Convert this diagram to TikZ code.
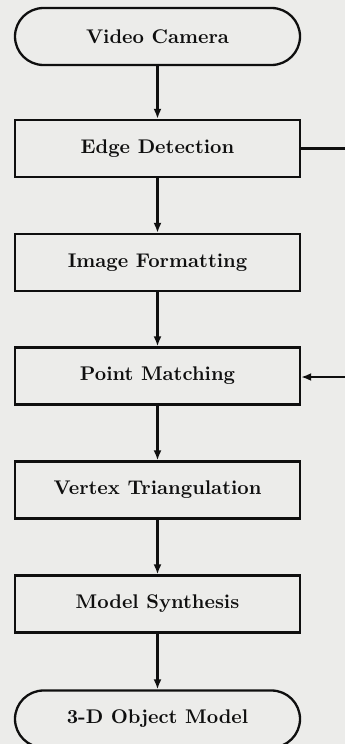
\documentclass[tikz,border=0pt]{standalone}
\usepackage{fontspec}
\setmainfont{lmroman10-regular.otf}[BoldFont=lmroman10-bold.otf]
\usetikzlibrary{arrows.meta}
\definecolor{paper}{RGB}{236,236,234}
\definecolor{ink}{RGB}{15,15,15}
\begin{document}
\begin{tikzpicture}[x=1pt,y=1pt,
  base/.style={draw=ink, line width=2.3pt, minimum width=285pt, minimum height=57pt,
    inner sep=0pt, text=ink, font=\fontsize{19.8}{22}\selectfont\bfseries, anchor=center},
  stepbox/.style={base},
  termbox/.style={base, rounded corners=28.5pt},
  flow/.style={draw=ink, line width=2.2pt, -{Latex[length=10pt,width=8pt]}},
  plain/.style={draw=ink, line width=2.2pt}]
\fill[paper] (0,0) rectangle (345,-744);
\useasboundingbox (0,0) rectangle (345,-744);
\node[termbox] (vc) at (157.5,-36.5) {Video Camera};
\node[stepbox] (ed) at (157.5,-148.5) {Edge Detection};
\node[stepbox] (if) at (157.5,-262.5) {Image Formatting};
\node[stepbox] (pm) at (157.5,-376) {Point Matching};
\node[stepbox] (vt) at (157.5,-490) {Vertex Triangulation};
\node[stepbox] (ms) at (157.5,-604) {Model Synthesis};
\node[termbox] (om) at (157.5,-719) {3-D Object Model};
\coordinate (edout) at (347,-148.5);
\coordinate (pmin) at (347,-377);
\draw[flow] (vc) -- (ed);
\draw[flow] (ed) -- (if);
\draw[flow] (if) -- (pm);
\draw[flow] (pm) -- (vt);
\draw[flow] (vt) -- (ms);
\draw[flow] (ms) -- (om);
\draw[plain] (ed.east) -- (edout);
\draw[flow] (pmin) -- (pm.east |- pmin);
\end{tikzpicture}
\end{document}
